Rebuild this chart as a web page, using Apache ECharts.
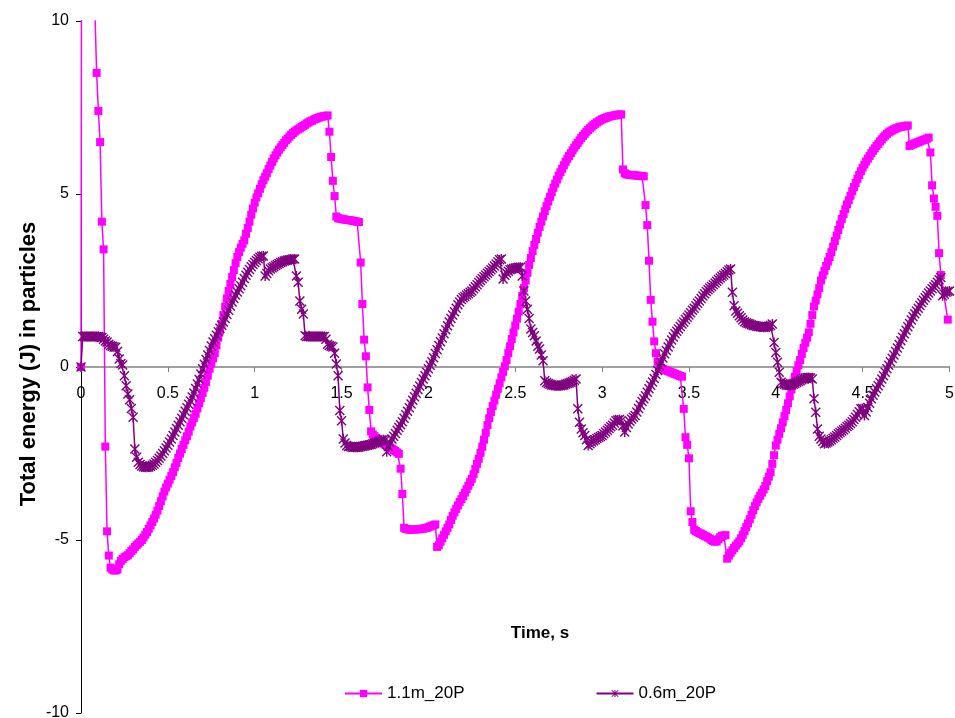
<!DOCTYPE html>
<html><head><meta charset="utf-8">
<script src="https://cdn.jsdelivr.net/npm/echarts@6.0.0/dist/echarts.min.js"></script>
<style>html,body{margin:0;padding:0;background:#fff}#c{width:955px;height:718px}</style>
</head><body><div id="c"></div>
<script>
const seriesNames = ['1.1m_20P', '0.6m_20P'];
const xTickValues = [0, 0.5, 1, 1.5, 2, 2.5, 3, 3.5, 4, 4.5, 5];
const yTickValues = [-10, -5, 0, 5, 10];
const timeStep = 0.01; // sampling step of the recorded data, s
const xTitle = 'Time, s';
const yTitle = 'Total energy (J) in particles';

// 1.1m_20P, t = 0.00 ... 5.00 s
const energy11 = [
 0, 40, 34, 28, 23, 19, 16, 13.5, 10.3, 8.5,
 7.4, 6.5, 4.2, 3.4, -2.3, -4.75, -5.45, -5.8, -5.85, -5.88,
 -5.88, -5.85, -5.7, -5.6, -5.55, -5.5, -5.47, -5.44, -5.38, -5.32,
 -5.27, -5.2, -5.15, -5.1, -5.05, -5.0, -4.93, -4.85, -4.77, -4.68,
 -4.58, -4.48, -4.38, -4.27, -4.15, -4.02, -3.88, -3.74, -3.6, -3.48,
 -3.37, -3.26, -3.15, -3.04, -2.9, -2.77, -2.63, -2.5, -2.37, -2.25,
 -2.12, -2.0, -1.87, -1.72, -1.6, -1.48, -1.35, -1.2, -1.05, -0.9,
 -0.75, -0.6, -0.43, -0.25, -0.05, 0.1, 0.25, 0.4, 0.62, 0.85,
 1.05, 1.25, 1.5, 1.75, 1.98, 2.2, 2.4, 2.6, 2.8, 3.0,
 3.18, 3.32, 3.45, 3.56, 3.66, 3.85, 4.02, 4.2, 4.4, 4.58,
 4.75, 4.9, 5.02, 5.15, 5.28, 5.4, 5.5, 5.6, 5.72, 5.82,
 5.93, 6.03, 6.12, 6.2, 6.28, 6.35, 6.42, 6.48, 6.55, 6.6,
 6.66, 6.71, 6.76, 6.8, 6.84, 6.87, 6.9, 6.94, 6.97, 7.0,
 7.04, 7.07, 7.1, 7.12, 7.15, 7.17, 7.19, 7.21, 7.23, 7.24,
 7.25, 7.26, 7.27, 6.8, 6.07, 5.38, 4.94, 4.35, 4.3, 4.29,
 4.28, 4.27, 4.26, 4.25, 4.25, 4.24, 4.23, 4.22, 4.21, 4.2,
 4.19, 3.02, 1.82, 0.79, 0.31, -0.59, -1.24, -1.86, -1.95, -2.0,
 -2.05, -2.1, -2.14, -2.18, -2.21, -2.24, -2.27, -2.3, -2.33, -2.36,
 -2.4, -2.43, -2.47, -2.51, -2.94, -3.67, -4.65, -4.68, -4.69, -4.7,
 -4.7, -4.7, -4.7, -4.69, -4.69, -4.68, -4.68, -4.67, -4.66, -4.65,
 -4.63, -4.61, -4.59, -4.57, -4.55, -5.2, -5.15, -5.05, -4.95, -4.85,
 -4.75, -4.65, -4.55, -4.42, -4.3, -4.2, -4.1, -4.0, -3.9, -3.82,
 -3.73, -3.63, -3.53, -3.43, -3.33, -3.23, -3.1, -2.95, -2.8, -2.65,
 -2.48, -2.3, -2.1, -1.9, -1.68, -1.48, -1.3, -1.13, -0.97, -0.8,
 -0.63, -0.47, -0.3, -0.14, 0.02, 0.2, 0.4, 0.6, 0.81, 1.0,
 1.2, 1.4, 1.6, 1.82, 2.05, 2.28, 2.5, 2.72, 2.95, 3.15,
 3.35, 3.53, 3.7, 3.88, 4.05, 4.2, 4.35, 4.5, 4.65, 4.78,
 4.92, 5.05, 5.18, 5.3, 5.42, 5.53, 5.63, 5.73, 5.83, 5.93,
 6.02, 6.1, 6.18, 6.26, 6.34, 6.41, 6.48, 6.55, 6.62, 6.68,
 6.74, 6.8, 6.85, 6.9, 6.95, 6.99, 7.03, 7.07, 7.1, 7.13,
 7.16, 7.18, 7.2, 7.22, 7.24, 7.25, 7.26, 7.27, 7.28, 7.29,
 7.3, 7.3, 5.71, 5.6, 5.57, 5.56, 5.55, 5.55, 5.54, 5.54,
 5.53, 5.53, 5.52, 5.52, 5.51, 4.68, 4.1, 3.07, 1.94, 1.31,
 0.74, 0.4, 0.15, 0.02, -0.03, -0.06, -0.08, -0.1, -0.12, -0.14,
 -0.16, -0.18, -0.2, -0.22, -0.24, -0.26, -0.28, -1.21, -2.03, -2.25,
 -2.64, -4.17, -4.48, -4.7, -4.74, -4.77, -4.8, -4.82, -4.85, -4.88,
 -4.9, -4.93, -4.96, -5.0, -5.03, -5.05, -5.04, -4.98, -4.92, -4.88,
 -4.87, -4.86, -5.54, -5.45, -5.37, -5.3, -5.23, -5.16, -5.1, -5.04,
 -4.95, -4.85, -4.74, -4.63, -4.52, -4.4, -4.27, -4.14, -4.02, -3.91,
 -3.81, -3.72, -3.63, -3.54, -3.44, -3.3, -3.17, -3.04, -2.8, -2.55,
 -2.27, -2.1, -1.93, -1.77, -1.6, -1.42, -1.24, -1.05, -0.85, -0.65,
 -0.45, -0.28, -0.12, 0.05, 0.2, 0.38, 0.55, 0.7, 0.85, 1.0,
 1.25, 1.5, 1.75, 1.92, 2.1, 2.28, 2.5, 2.65, 2.78, 2.92,
 3.05, 3.18, 3.32, 3.48, 3.64, 3.8, 3.96, 4.12, 4.28, 4.42,
 4.56, 4.7, 4.82, 4.95, 5.08, 5.2, 5.32, 5.44, 5.55, 5.66,
 5.76, 5.85, 5.94, 6.02, 6.1, 6.18, 6.25, 6.32, 6.39, 6.45,
 6.52, 6.58, 6.64, 6.69, 6.74, 6.78, 6.81, 6.84, 6.87, 6.89,
 6.91, 6.93, 6.94, 6.95, 6.96, 6.97, 6.98, 6.39, 6.42, 6.44,
 6.46, 6.48, 6.5, 6.52, 6.54, 6.56, 6.58, 6.6, 6.63, 6.2,
 5.25, 4.87, 4.63, 4.37, 3.29, 2.66, null, null, null, 1.37,
 null
];

// 0.6m_20P, t = 0.00 ... 5.00 s
const energy06 = [
 0, 0.88, 0.88, 0.88, 0.88, 0.88, 0.88, 0.88, 0.88, 0.88,
 0.88, 0.87, 0.85, 0.8, 0.75, 0.72, 0.66, 0.62, 0.6, 0.58,
 0.57, 0.45, 0.23, 0.1, 0.06, -0.25, -0.54, -0.78, -0.95, -1.2,
 -1.45, -2.37, -2.61, -2.75, -2.82, -2.86, -2.88, -2.9, -2.9, -2.89,
 -2.87, -2.84, -2.8, -2.75, -2.7, -2.64, -2.57, -2.5, -2.42, -2.34,
 -2.26, -2.17, -2.08, -1.98, -1.88, -1.78, -1.68, -1.58, -1.48, -1.38,
 -1.28, -1.18, -1.08, -0.98, -0.87, -0.75, -0.62, -0.49, -0.36, -0.2,
 -0.05, 0.08, 0.22, 0.35, 0.48, 0.61, 0.72, 0.82, 0.92, 1.02,
 1.12, 1.21, 1.3, 1.4, 1.52, 1.64, 1.76, 1.88, 1.98, 2.08,
 2.17, 2.26, 2.35, 2.45, 2.56, 2.65, 2.74, 2.82, 2.9, 2.96,
 3.02, 3.08, 3.13, 3.17, 3.2, 3.21, 2.63, 2.7, 2.78, 2.83,
 2.87, 2.9, 2.93, 2.96, 2.99, 3.02, 3.04, 3.06, 3.08, 3.09,
 3.1, 3.11, 3.12, 3.12, 2.63, 2.45, 1.91, 1.67, 1.53, 0.9,
 0.88, 0.88, 0.88, 0.88, 0.88, 0.88, 0.88, 0.88, 0.88, 0.88,
 0.88, 0.8, 0.66, 0.62, 0.6, 0.58, 0.4, 0.09, -0.25, -1.26,
 -1.55, -2.08, -2.2, -2.27, -2.3, -2.3, -2.31, -2.32, -2.32, -2.32,
 -2.31, -2.3, -2.29, -2.28, -2.27, -2.26, -2.25, -2.24, -2.22, -2.2,
 -2.18, -2.16, -2.14, -2.12, -2.1, -2.12, -2.45, -2.3, -2.2, -2.08,
 -2.0, -1.92, -1.83, -1.75, -1.67, -1.58, -1.48, -1.38, -1.28, -1.18,
 -1.07, -0.96, -0.86, -0.76, -0.65, -0.55, -0.45, -0.35, -0.25, -0.15,
 -0.05, 0.05, 0.15, 0.27, 0.39, 0.5, 0.62, 0.73, 0.84, 0.96,
 1.08, 1.19, 1.3, 1.4, 1.5, 1.6, 1.7, 1.8, 1.88, 1.95,
 2.0, 2.04, 2.08, 2.12, 2.16, 2.2, 2.26, 2.32, 2.38, 2.44,
 2.5, 2.56, 2.61, 2.66, 2.71, 2.76, 2.81, 2.86, 2.92, 2.98,
 3.04, 3.1, 3.12, 2.54, 2.65, 2.72, 2.77, 2.81, 2.83, 2.85,
 2.86, 2.87, 2.88, 2.88, 2.63, 2.2, 1.91, 1.67, 1.4, 1.1,
 1.0, 0.9, 0.75, 0.6, 0.52, 0.35, 0.18, -0.4, -0.45, -0.48,
 -0.5, -0.52, -0.53, -0.54, -0.54, -0.54, -0.54, -0.53, -0.52, -0.5,
 -0.48, -0.46, -0.44, -0.42, -0.38, -0.35, -1.21, -1.6, -1.79, -1.9,
 -1.98, -2.1, -2.27, -2.22, -2.17, -2.13, -2.1, -2.07, -2.04, -2.01,
 -1.98, -1.93, -1.88, -1.83, -1.78, -1.73, -1.68, -1.62, -1.55, -1.53,
 -1.52, -1.55, -1.7, -1.88, -1.75, -1.65, -1.57, -1.5, -1.45, -1.4,
 -1.3, -1.2, -1.1, -1.0, -0.92, -0.83, -0.73, -0.63, -0.53, -0.43,
 -0.33, -0.22, -0.1, 0.02, 0.14, 0.26, 0.38, 0.48, 0.58, 0.68,
 0.78, 0.87, 0.96, 1.03, 1.1, 1.17, 1.24, 1.3, 1.37, 1.44,
 1.5, 1.57, 1.64, 1.7, 1.77, 1.84, 1.91, 1.98, 2.05, 2.12,
 2.18, 2.23, 2.28, 2.33, 2.38, 2.43, 2.48, 2.53, 2.57, 2.62,
 2.66, 2.7, 2.75, 2.8, 2.83, 2.16, 1.77, 1.62, 1.55, 1.48,
 1.42, 1.36, 1.31, 1.28, 1.26, 1.24, 1.22, 1.2, 1.19, 1.18,
 1.17, 1.16, 1.16, 1.15, 1.15, 1.16, 1.18, 1.2, 1.24, 0.71,
 0.42, 0.14, -0.15, -0.44, -0.48, -0.5, -0.52, -0.53, -0.53, -0.52,
 -0.5, -0.48, -0.45, -0.42, -0.4, -0.37, -0.34, -0.32, -0.3, -0.3,
 -0.32, -0.35, -0.92, -1.31, -1.79, -2.0, -2.08, -2.15, -2.22, -2.2,
 -2.17, -2.14, -2.1, -2.06, -2.02, -1.98, -1.93, -1.89, -1.85, -1.81,
 -1.77, -1.72, -1.68, -1.63, -1.58, -1.52, -1.45, -1.37, -1.29, -1.21,
 -1.2, -1.4, -1.3, -1.17, -1.05, -0.92, -0.82, -0.72, -0.63, -0.54,
 -0.45, -0.35, -0.25, -0.15, -0.05, 0.05, 0.15, 0.25, 0.35, 0.45,
 0.55, 0.65, 0.76, 0.86, 0.96, 1.06, 1.16, 1.26, 1.36, 1.45,
 1.54, 1.62, 1.7, 1.78, 1.86, 1.93, 2.0, 2.07, 2.14, 2.2,
 2.26, 2.32, 2.38, 2.45, 2.52, 2.59, 2.06, 2.1, 2.16, 2.18,
 2.2
];

const FONT = '"Liberation Sans", Arial, Helvetica, sans-serif';
const times = energy11.map((_, i) => +(i * timeStep).toFixed(2));
const pairs = vals => vals.map((v, i) => [times[i], v]);

const asterisk = 'path://M4.3,0H5.7V10H4.3Z M0,1L1,0L10,9L9,10Z M9,0L10,1L1,10L0,9Z';

const GRID_TOP = 21, GRID_BOTTOM = 5, H = 718;
const plotH = H - GRID_TOP - GRID_BOTTOM;
const yMin = yTickValues[0], yMax = yTickValues[yTickValues.length - 1];
// x axis drawn where y = 0 (moved up from the bottom edge of the grid)
const zeroOffset = -plotH * (0 - yMin) / (yMax - yMin);

const chart = echarts.init(document.getElementById('c'), null, {renderer: 'canvas'});
chart.setOption({
  animation: false,
  backgroundColor: '#ffffff',
  textStyle: {fontFamily: FONT},
  grid: {left: 81, right: 5.5, top: GRID_TOP, bottom: GRID_BOTTOM, containLabel: false, outerBoundsMode: 'none'},
  xAxis: {
    type: 'value', position: 'bottom', offset: zeroOffset,
    min: xTickValues[0], max: xTickValues[xTickValues.length - 1],
    interval: xTickValues[1] - xTickValues[0],
    axisLine: {show: true, onZero: false, lineStyle: {color: '#808080', width: 1.5}},
    axisTick: {show: true, length: 5, lineStyle: {color: '#808080', width: 1}},
    axisLabel: {show: true, color: '#000', fontSize: 16, margin: 19, fontFamily: FONT,
                showMinLabel: true, showMaxLabel: true, hideOverlap: false},
    splitLine: {show: false}
  },
  yAxis: {
    type: 'value',
    min: yMin, max: yMax,
    interval: yTickValues[1] - yTickValues[0],
    axisLine: {show: true, onZero: false, lineStyle: {color: '#000', width: 1}},
    axisTick: {show: true, length: 5, lineStyle: {color: '#000', width: 1}},
    axisLabel: {color: '#000', fontSize: 16, margin: 12, fontFamily: FONT},
    splitLine: {show: false}
  },
  legend: {
    data: seriesNames,
    left: 339, top: 680,
    itemWidth: 37, itemHeight: 9, itemGap: 131,
    textStyle: {color: '#000', fontSize: 17, fontFamily: FONT}
  },
  graphic: [
    {type: 'text', x: 540, y: 633, silent: true,
     style: {text: xTitle, font: 'bold 17px ' + FONT, fill: '#000',
             align: 'center', verticalAlign: 'middle', textAlign: 'center', textVerticalAlign: 'middle'}},
    {type: 'text', x: 29, y: 364, rotation: Math.PI / 2, silent: true,
     style: {text: yTitle, font: 'bold 22px ' + FONT, fill: '#000',
             align: 'center', verticalAlign: 'middle', textAlign: 'center', textVerticalAlign: 'middle'}}
  ],
  series: [
    {
      name: seriesNames[0], type: 'line', data: pairs(energy11),
      symbol: 'rect', symbolSize: 8, showAllSymbol: true, connectNulls: true,
      clip: true,
      lineStyle: {color: '#FF00FF', width: 1.5},
      itemStyle: {color: '#FF00FF'},
      emphasis: {disabled: true}
    },
    {
      name: seriesNames[1], type: 'line', data: pairs(energy06),
      symbol: asterisk, symbolSize: 10, showAllSymbol: true, connectNulls: true,
      clip: true,
      lineStyle: {color: '#800080', width: 1.5},
      itemStyle: {color: '#800080'},
      emphasis: {disabled: true}
    }
  ]
});
</script>
</body></html>
